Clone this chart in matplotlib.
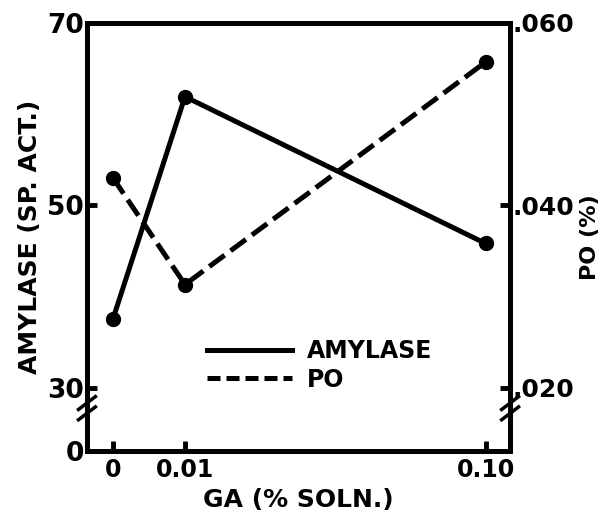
#amylase and PO response to GA concentration
import numpy as np
import matplotlib.pyplot as plt
from matplotlib.lines import Line2D

ga = [0, 0.01, 0.10]
amylase = [37.5, 61.9, 45.8]
po = [0.043, 0.0313, 0.0557]

ga_ticks = [0, 0.01, 0.10]
ga_labels = ["0", "0.01", "0.10"]
amy_ticks = [30, 50, 70]
po_ticks = [0.020, 0.040, 0.060]
po_labels = [".020", ".040", ".060"]

plt.rcParams['font.family'] = 'DejaVu Sans'
plt.rcParams['font.weight'] = 'bold'

# uneven GA spacing, as drawn in the original
ga_pos = [0, 1, 5.17]


def scale_fwd(x):
    x = np.asarray(x, dtype=float)
    lo = (x - ga_ticks[0]) / (ga_ticks[1] - ga_ticks[0]) * (ga_pos[1] - ga_pos[0]) + ga_pos[0]
    hi = (x - ga_ticks[1]) / (ga_ticks[2] - ga_ticks[1]) * (ga_pos[2] - ga_pos[1]) + ga_pos[1]
    return np.where(x < ga_ticks[1], lo, hi)


def scale_inv(p):
    p = np.asarray(p, dtype=float)
    lo = (p - ga_pos[0]) / (ga_pos[1] - ga_pos[0]) * (ga_ticks[1] - ga_ticks[0]) + ga_ticks[0]
    hi = (p - ga_pos[1]) / (ga_pos[2] - ga_pos[1]) * (ga_ticks[2] - ga_ticks[1]) + ga_ticks[1]
    return np.where(p < ga_pos[1], lo, hi)


fig = plt.figure(figsize=(6.08, 5.19), dpi=100)
ax = fig.add_axes([0.143, 0.131, 0.696, 0.825])
ax2 = ax.twinx()

ax.set_xscale('function', functions=(scale_fwd, scale_inv))
ax.set_xlim(float(scale_inv(-0.36)), float(scale_inv(5.51)))

# y axis is broken below 30, bottom labelled 0
ybot = 30 - (451 - 388) / 181 * 20
ax.set_ylim(ybot, 70)
ax2.set_ylim(ybot / 1000 - 0.010, 0.060)

lw = 3.6
dash = (0, (3.8, 1.5))
ax.plot(ga, amylase, color='black', lw=lw, marker='o', ms=10)
ax2.plot(ga, po, color='black', lw=lw, ls=dash, marker='o', ms=10)

for a in (ax, ax2):
    for s in a.spines.values():
        s.set_linewidth(3.5)

ax.set_xticks(ga_ticks)
ax.set_xticklabels(ga_labels)
ax.set_yticks([ybot] + amy_ticks)
ax.set_yticklabels(["0"] + [str(t) for t in amy_ticks])
ax2.set_yticks(po_ticks)
ax2.set_yticklabels(po_labels)

ax.tick_params(axis='x', direction='in', length=7, width=3.5, labelsize=17, pad=5)
ax.tick_params(axis='y', direction='in', length=7, width=3.5, labelsize=19, pad=2)
ax2.tick_params(axis='y', direction='in', length=7, width=3.5, labelsize=18, pad=2)
ax.yaxis.get_major_ticks()[0].tick1line.set_visible(False)
ax.yaxis.get_major_ticks()[-1].tick1line.set_visible(False)
ax2.yaxis.get_major_ticks()[-1].tick2line.set_visible(False)

ax.set_xlabel("GA (% SOLN.)", fontsize=18, fontweight='bold', labelpad=4)
ax.set_ylabel("AMYLASE (SP. ACT.)", fontsize=18, fontweight='bold', labelpad=4)
ax2.set_ylabel("PO (%)", fontsize=16, fontweight='bold', labelpad=4)

# break marks on both y axes
for xx in (0, 1):
    for dy in (-0.012, 0.012):
        ax.plot([xx - 0.02, xx + 0.02], [0.10 + dy - 0.015, 0.10 + dy + 0.015],
                transform=ax.transAxes, color='black', lw=2.5, clip_on=False)

handles = [Line2D([], [], color='black', lw=lw),
           Line2D([], [], color='black', lw=lw, ls=(0, (2.6, 1.2)))]
ax.legend(handles, ["AMYLASE", "PO"], loc='center', bbox_to_anchor=(0.55, 0.20),
          frameon=False, fontsize=17, handlelength=3.6, handletextpad=0.6,
          labelspacing=0.2)

fig.savefig("out.png", dpi=100)
